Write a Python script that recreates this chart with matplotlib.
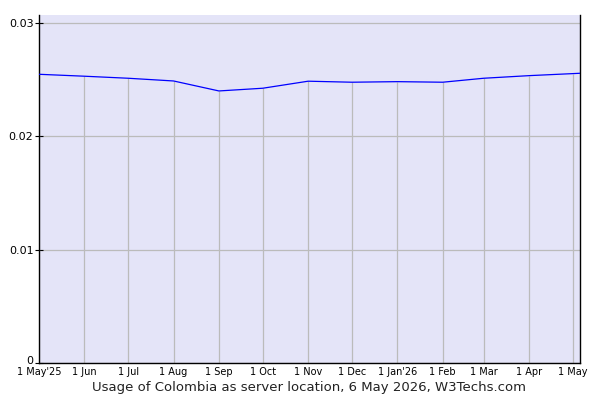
import matplotlib
matplotlib.use("Agg")
import matplotlib.pyplot as plt
import matplotlib.transforms as mtransforms
from datetime import date

# monthly values
dates = [date(2025, 5, 1), date(2025, 6, 1), date(2025, 7, 1), date(2025, 8, 1),
         date(2025, 9, 1), date(2025, 10, 1), date(2025, 11, 1), date(2025, 12, 1),
         date(2026, 1, 1), date(2026, 2, 1), date(2026, 3, 1), date(2026, 4, 1),
         date(2026, 5, 1), date(2026, 5, 6)]
usage = [0.02547, 0.0253, 0.02512, 0.02488, 0.0240, 0.02424, 0.02486, 0.02477,
         0.02482, 0.02477, 0.02512, 0.02535, 0.02553, 0.02556]

tick_dates = dates[:13]
tick_labels = ["1 May'25", "1 Jun", "1 Jul", "1 Aug", "1 Sep", "1 Oct", "1 Nov",
               "1 Dec", "1 Jan'26", "1 Feb", "1 Mar", "1 Apr", "1 May"]
y_ticks = [0, 0.01, 0.02, 0.03]
y_labels = ["0", "0.01", "0.02", "0.03"]

fig = plt.figure(figsize=(6, 4), dpi=100)
ax = fig.add_axes([0.065, 0.0925, 0.902, 0.87])
ax.set_facecolor("#e4e4f8")

# horizontal grid across, vertical drop lines only below the curve
ax.yaxis.grid(True, color="#bbbbbb", linewidth=0.9)
ax.set_axisbelow(True)
ax.vlines(tick_dates, 0, usage[:13], color="#bbbbbb", linewidth=0.9, zorder=1)

ax.plot(dates, usage, color="#0000ff", linewidth=0.9, zorder=3)

ax.set_xlim(dates[0], dates[-1])
ax.set_ylim(0, 0.0307)

ax.set_xticks(tick_dates)
ax.set_xticklabels(tick_labels, fontsize=7)
ax.set_yticks(y_ticks)
ax.set_yticklabels(y_labels, fontsize=8)

ax.tick_params(axis="both", direction="inout", length=6, width=0.8, pad=1)
ax.tick_params(axis="x", length=0, pad=3)

# lift the "0" label a little so it clears the first date label
zero_lbl = ax.get_yticklabels()[0]
zero_lbl.set_transform(zero_lbl.get_transform() +
                       mtransforms.ScaledTranslation(0, 3 / 100, fig.dpi_scale_trans))

ax.spines["top"].set_visible(False)
for s in ["left", "bottom", "right"]:
    ax.spines[s].set_color("black")
    ax.spines[s].set_linewidth(1.0)

fig.text(0.515, 0.03, "Usage of Colombia as server location, 6 May 2026, W3Techs.com",
         ha="center", va="center", fontsize=9.5, color="#222222")

fig.savefig("out.png", dpi=100)
